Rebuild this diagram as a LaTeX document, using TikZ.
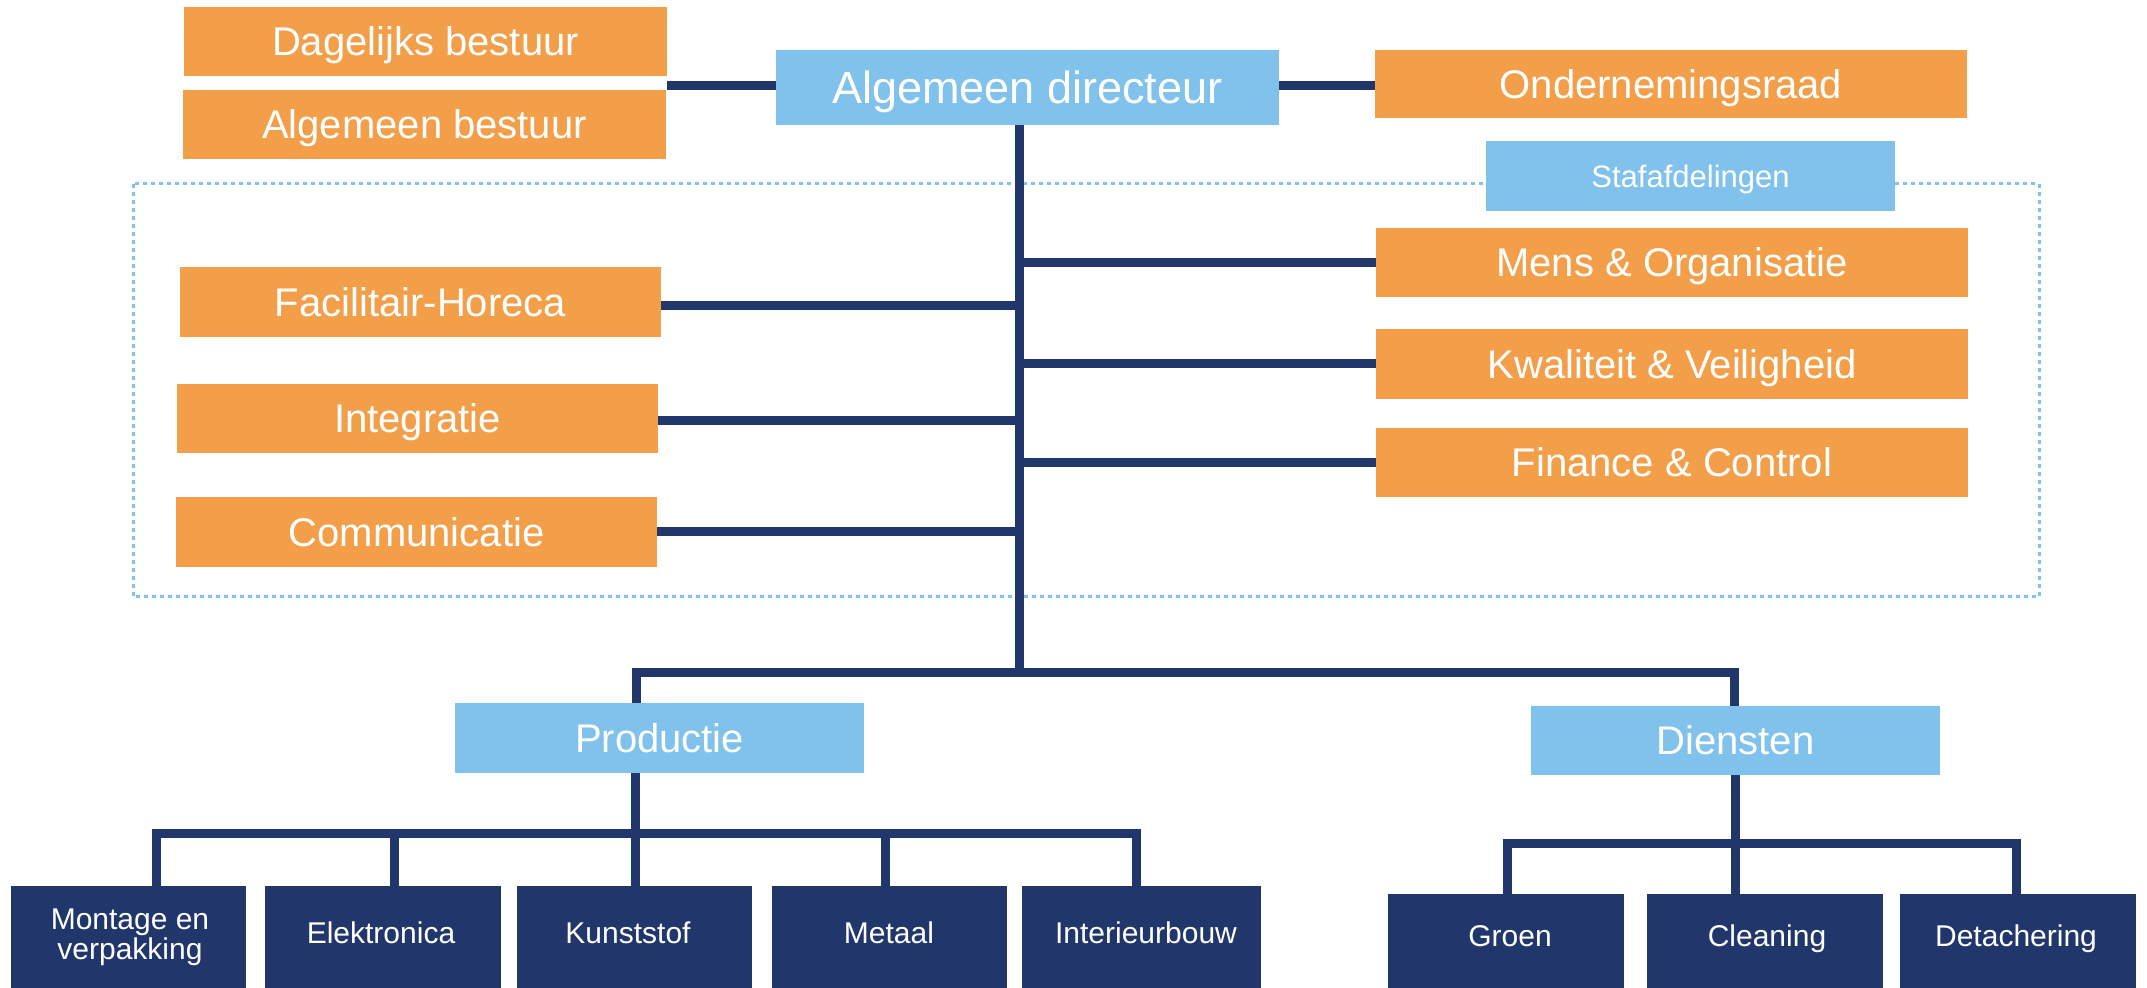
\documentclass[tikz,border=0pt]{standalone}
\usepackage{fontspec}
\setmainfont{Liberation Sans}
\definecolor{orng}{HTML}{F39F4A}
\definecolor{lblue}{HTML}{80C2EC}
\definecolor{navy}{HTML}{21376B}
\tikzset{
  box/.style={rectangle, inner sep=0pt, text=white, anchor=center},
  orangebox/.style={box, fill=orng, font=\fontsize{20pt}{24pt}\selectfont, text height=14.3pt, text depth=0pt},
  bluebox/.style={box, fill=lblue, font=\fontsize{20pt}{24pt}\selectfont, text height=14.3pt, text depth=0pt},
  subbox/.style={rectangle, inner sep=0pt, fill=navy, anchor=north, minimum height=60pt},
  subtext/.style={text=white, inner sep=0pt, font=\fontsize{15pt}{13.5pt}\selectfont, text height=10.7pt, text depth=0pt},
  subtexttwo/.style={text=white, inner sep=0pt, font=\fontsize{15pt}{13.5pt}\selectfont, align=center},
  conn/.style={draw=navy, line width=4.5pt},
  dotbox/.style={draw=lblue, line width=1.5pt, dash pattern=on 2pt off 2pt},
}
\begin{document}
\begin{tikzpicture}[x=0.5pt, y=-0.5pt]
\path[fill=white, use as bounding box] (0,0) rectangle (2147,988);

% dotted staff frame
\draw[dotbox] (133,184) rectangle (2039,597);

% top level
\node[orangebox, minimum width=241.5pt, minimum height=34.5pt] (dag) at (425.5,41.5) {Dagelijks bestuur};
\node[orangebox, minimum width=241.5pt, minimum height=34.5pt] (alg) at (424.5,124.5) {Algemeen bestuur};
\node[bluebox, font=\fontsize{22.5pt}{27pt}\selectfont, text height=16.1pt, minimum width=251.5pt, minimum height=37.5pt] (dir) at (1027.5,87.5) {Algemeen directeur};
\node[orangebox, minimum width=296pt, minimum height=34pt] (or) at (1671,84) {Ondernemingsraad};
\node[bluebox, font=\fontsize{15.5pt}{18pt}\selectfont, text height=11.1pt, minimum width=204.5pt, minimum height=35pt] (staf) at (1690.5,176) {Stafafdelingen};

% staff departments
\node[orangebox, minimum width=296pt, minimum height=34.5pt] (mens) at (1672,262.5) {Mens \& Organisatie};
\node[orangebox, minimum width=296pt, minimum height=35pt] (kwal) at (1672,364) {Kwaliteit \& Veiligheid};
\node[orangebox, minimum width=296pt, minimum height=34.5pt] (fin) at (1672,462.5) {Finance \& Control};
\node[orangebox, minimum width=240.5pt, minimum height=35pt] (fac) at (420.5,302) {Facilitair-Horeca};
\node[orangebox, minimum width=240.5pt, minimum height=34.5pt] (int) at (417.5,418.5) {Integratie};
\node[orangebox, minimum width=240.5pt, minimum height=35pt] (com) at (416.5,532) {Communicatie};

% divisions
\node[bluebox, minimum width=204.5pt, minimum height=35pt] (prod) at (659.5,738) {Productie};
\node[bluebox, minimum width=204.5pt, minimum height=34.5pt] (dien) at (1735.5,740.5) {Diensten};

% production units
\node[subbox, minimum width=117.5pt] (mont) at (128.5,886) {};
\node[subbox, minimum width=118pt] (elek) at (383,886) {};
\node[subbox, minimum width=117.5pt] (kuns) at (634.5,886) {};
\node[subbox, minimum width=117.5pt] (meta) at (889.5,886) {};
\node[subbox, minimum width=119.5pt] (inte) at (1141.5,886) {};
\node[subtexttwo] (montt) at (130,937) {Montage en\\verpakking};
\node[subtext] (elekt) at (381,933) {Elektronica};
\node[subtext] (kunst) at (628,933) {Kunststof};
\node[subtext] (metat) at (889,933) {Metaal};
\node[subtext] (intet) at (1146,933) {Interieurbouw};

% service units
\node[subbox, minimum width=118pt] (groen) at (1506,894) {};
\node[subbox, minimum width=118pt] (clean) at (1765,894) {};
\node[subbox, minimum width=118pt] (det) at (2018,894) {};
\node[subtext] (groent) at (1510,936) {Groen};
\node[subtext] (cleant) at (1767,936) {Cleaning};
\node[subtext] (dett) at (2016,936) {Detachering};

% junction coordinates
\coordinate (bst) at (667,85.5);
\coordinate (T0) at (1019,125);
\coordinate (T1) at (1019,672);
\coordinate (pj) at (636,672);
\coordinate (dj) at (1734,672);
\coordinate (p1) at (156,833);
\coordinate (p2) at (394,833);
\coordinate (p3) at (635,833);
\coordinate (p4) at (885,833);
\coordinate (p5) at (1136,833);
\coordinate (q1) at (1507,843);
\coordinate (q2) at (1735,843);
\coordinate (q3) at (2016,843);

% connectors
\draw[conn] (bst) -- (bst -| dir.west);
\draw[conn] (dir.east |- bst) -- (or.west |- bst);
\draw[conn] (T0) -- (T1);
\draw[conn] (mens.west -| T0) -- (mens.west);
\draw[conn] (kwal.west -| T0) -- (kwal.west);
\draw[conn] (fin.west -| T0) -- (fin.west);
\draw[conn] ([yshift=-2pt]fac.east) -- ([yshift=-2pt]fac.east -| T0);
\draw[conn] ([yshift=-1.25pt]int.east) -- ([yshift=-1.25pt]int.east -| T0);
\draw[conn] (com.east) -- (com.east -| T0);
\draw[conn] (prod.north -| pj) -- (pj) -- (dj) -- (dien.north -| dj);

\draw[conn] (prod.south -| p3) -- (p3);
\draw[conn] (mont.north -| p1) -- (p1) -- (p5) -- (inte.north -| p5);
\draw[conn] (elek.north -| p2) -- (p2);
\draw[conn] (kuns.north -| p3) -- (p3);
\draw[conn] (meta.north -| p4) -- (p4);

\draw[conn] (dien.south -| q2) -- (q2);
\draw[conn] (groen.north -| q1) -- (q1) -- (q3) -- (det.north -| q3);
\draw[conn] (clean.north -| q2) -- (q2);
\end{tikzpicture}
\end{document}
